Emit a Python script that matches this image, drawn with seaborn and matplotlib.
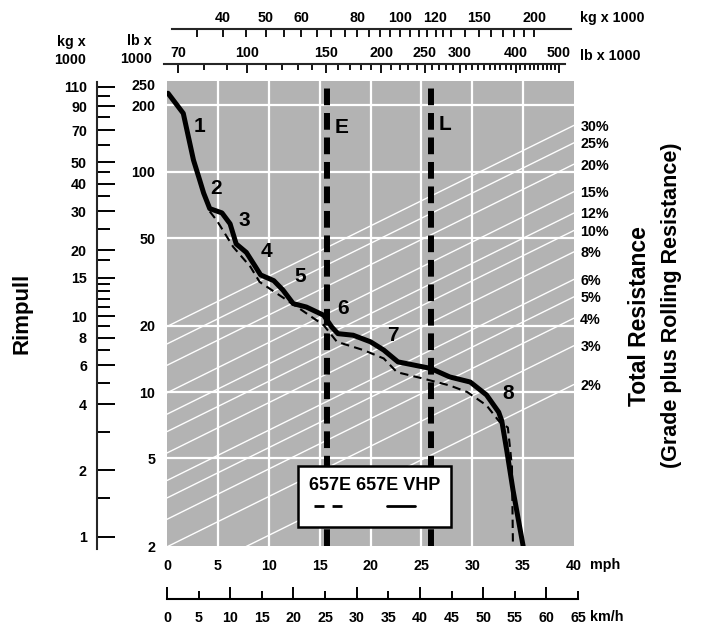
"""
Rimpull / speed / gradeability chart for the 657E and 657E VHP.
Rimpull on a log scale against ground speed, with the gross weight
scale on top and total resistance lines running across the plot.
"""

import numpy as np
import matplotlib
matplotlib.use('Agg')
import matplotlib.pyplot as plt
import seaborn as sns
from matplotlib.lines import Line2D
from matplotlib.ticker import FixedLocator, FuncFormatter, NullFormatter, NullLocator

# ── Rimpull curves (speed in mph, rimpull in lb x 1000) ──────
vhp_mph = [0.1, 1.6, 2.6, 3.2, 3.6, 4.2, 5.4, 6.2, 6.8, 7.8, 8.7, 9.2,
           10.5, 11.4, 12.4, 13.7, 15.4, 16.2, 16.8, 18.3, 20.0, 21.3,
           22.7, 25.9, 27.8, 29.8, 31.4, 32.6, 32.9, 33.4, 34.0, 35.0]
vhp_rimpull = [227, 184, 113, 92, 80, 68, 65, 58, 47, 43, 37, 34,
               32, 29, 25.2, 24.3, 22.3, 19.7, 18.4, 18.1, 16.9, 15.5,
               13.7, 12.8, 11.7, 11.1, 9.7, 8.1, 7.4, 5.4, 3.6, 2.0]

std_mph = [4.2, 4.9, 6.5, 8.2, 9.1, 10.8, 12.8, 15.4, 16.7, 19.3, 21.3,
           22.6, 25.2, 27.8, 29.5, 31.4, 32.7, 33.5, 33.9, 34.0]
std_rimpull = [66, 60, 45.6, 37, 31.6, 28, 24.3, 20.1, 16.9, 15.5, 14.2,
               12.3, 11.5, 10.7, 10.0, 8.7, 7.3, 6.9, 4.6, 2.0]

gear_names = ['1', '2', '3', '4', '5', '6', '7', '8']
gear_mph = [3.24, 4.82, 7.57, 9.8, 13.14, 17.27, 22.24, 33.54]
gear_rimpull = [160, 84, 60, 43.3, 33.4, 24.0, 18.1, 9.8]

# ── Total resistance lines (%) ───────────────────────────────
grades = [2, 3, 4, 5, 6, 8, 10, 12, 15, 20, 25, 30]

# ── Gross weight scale (lb x 1000 at 0 mph and at 40 mph) ────
weight_at_0mph = 66.1
weight_at_40mph = 541.0
marker_names = ['E', 'L']
marker_weight = [151, 258]
marker_label_rimpull = [159, 164]

# ── Scale ticks ──────────────────────────────────────────────
mph_ticks = [0, 5, 10, 15, 20, 25, 30, 35, 40]
grid_mph = [5, 10, 15, 20, 25, 30, 35]
lb_ticks = [2, 5, 10, 20, 50, 100, 200, 250]
grid_lb = [5, 10, 20, 50, 100, 200]
kg_left_major = [1, 2, 4, 6, 8, 10, 15, 20, 30, 40, 50, 70, 90, 110]
kg_left_minor = [1.5, 3, 5, 7, 9, 11, 12, 13, 14, 18, 25, 35, 45, 60, 80, 100]
kg_top_major = [40, 50, 60, 80, 100, 120, 150, 200]
kg_top_minor = [35, 45, 55, 65, 70, 75, 85, 90, 95, 105, 110, 115, 125,
                130, 140, 160, 170, 180, 190]
lb_top_major = [70, 100, 150, 200, 250, 300, 400, 500]
lb_top_minor = [v for v in range(80, 500, 10) if v not in lb_top_major]
kmh_major = [0, 10, 20, 30, 40, 50, 60]
kmh_minor = [5, 15, 25, 35, 45, 55, 65]

LB_PER_KG = 2.20462
KMH_PER_MPH = 1.609344
SPAN = np.log10(weight_at_40mph / weight_at_0mph)


def mph_to_lb(m):
    return weight_at_0mph * 10 ** (np.asarray(m, float) / 40 * SPAN)


def lb_to_mph(w):
    w = np.clip(np.asarray(w, float), 1e-9, None)
    return 40 * np.log10(w / weight_at_0mph) / SPAN


fmt = FuncFormatter(lambda v, p: f'{v:g}')

# ── Style ─────────────────────────────────────────────────────
GRAY = '#B3B3B3'
sns.set_theme(style='white')
plt.rcParams['font.family'] = ['Liberation Sans', 'DejaVu Sans']
plt.rcParams['font.weight'] = 'bold'
plt.rcParams['text.color'] = 'black'
plt.rcParams['xtick.color'] = 'black'
plt.rcParams['ytick.color'] = 'black'
TICK_FS = 10.3

W, H = 701, 624
fig = plt.figure(figsize=(W / 100, H / 100), dpi=100)
fig.patch.set_facecolor('white')
ax = fig.add_axes([167 / W, 1 - 546 / H, 407 / W, 465 / H])
ax.set_facecolor(GRAY)
ax.set_yscale('log')
ax.set_xlim(0, 40)
ax.set_ylim(2, 258)
for s in ax.spines.values():
    s.set_visible(False)

# grid
for g in grid_mph:
    ax.axvline(g, color='white', lw=1.6, zorder=1)
for g in grid_lb:
    ax.axhline(g, color='white', lw=1.6, zorder=1)

# total resistance lines
for r in grades:
    ax.plot([0, 40], [r / 100 * mph_to_lb(0), r / 100 * mph_to_lb(40)],
            color='white', lw=1.0, zorder=1)
    ax.annotate(f'{r}%', xy=(40, r / 100 * weight_at_40mph), xytext=(4.5, -1),
                textcoords='offset points', ha='left', va='center',
                fontsize=TICK_FS, annotation_clip=False)

# empty / loaded weight lines
for name, w, yl in zip(marker_names, marker_weight, marker_label_rimpull):
    ax.axvline(lb_to_mph(w), color='black', lw=4.3, ls=(0, (2.8, 1.3)), zorder=3)
    ax.text(lb_to_mph(w) + 1.45, yl, name, fontsize=15, ha='center', va='center', zorder=6)

# rimpull curves
sns.lineplot(x=std_mph, y=std_rimpull, ax=ax, color='black', lw=1.5,
             linestyle=(0, (4, 2.5)), sort=False, estimator=None, zorder=4)
sns.lineplot(x=vhp_mph, y=vhp_rimpull, ax=ax, color='black', lw=3.6,
             sort=False, estimator=None, zorder=5, solid_joinstyle='round')

for name, x, y in zip(gear_names, gear_mph, gear_rimpull):
    ax.text(x, y, name, fontsize=15, ha='center', va='center', zorder=6)

# main axis ticks
ax.set_xticks(mph_ticks)
ax.xaxis.set_major_formatter(fmt)
ax.set_yticks(lb_ticks)
ax.yaxis.set_major_formatter(fmt)
ax.yaxis.set_minor_locator(NullLocator())
ax.tick_params(axis='x', length=0, pad=9.5, labelsize=TICK_FS)
ax.tick_params(axis='y', length=0, pad=8.5, labelsize=TICK_FS)
ax.set_xlabel('')
ax.set_ylabel('')

# legend: title above its two line samples
handles = [Line2D([], [], color='black', lw=2.0, ls=(0, (3.6, 2.9))),
           Line2D([], [], color='black', lw=2.0)]
leg = ax.legend(handles, ['', ''], title='657E 657E VHP', ncol=2,
                loc='upper left', bbox_to_anchor=(0.322, 0.172),
                fontsize=13, title_fontproperties={'size': 13, 'weight': 'bold'},
                handlelength=1.55, handletextpad=0.28, columnspacing=2.2,
                markerfirst=False, borderpad=0.6, labelspacing=0.3,
                frameon=True, fancybox=False, framealpha=1, borderaxespad=0)
leg._legend_box.align = 'left'
leg.get_frame().set_edgecolor('black')
leg.get_frame().set_linewidth(1.8)
leg.get_frame().set_facecolor('white')
leg.set_zorder(10)

# ── Left: kg x 1000 scale ────────────────────────────────────
kg_ax = ax.secondary_yaxis(-0.171, functions=(lambda lb: lb / LB_PER_KG,
                                              lambda kg: kg * LB_PER_KG))
kg_ax.yaxis.set_major_locator(FixedLocator(kg_left_major))
kg_ax.yaxis.set_minor_locator(FixedLocator(kg_left_minor))
kg_ax.yaxis.set_major_formatter(fmt)
kg_ax.yaxis.set_minor_formatter(NullFormatter())
kg_ax.tick_params(which='both', direction='in', width=1.4, pad=7.5, labelsize=TICK_FS)
kg_ax.tick_params(which='major', length=13)
kg_ax.tick_params(which='minor', length=9)
kg_ax.spines['left'].set_linewidth(1.5)
kg_ax.spines['left'].set_bounds(0.875, 116)

# ── Top: gross weight scales ─────────────────────────────────
for loc, fwd, inv, major, minor, bounds, lmaj, lmin in [
        (1.1118, lambda m: mph_to_lb(m) / LB_PER_KG, lambda k: lb_to_mph(np.asarray(k, float) * LB_PER_KG),
         kg_top_major, kg_top_minor, (30.8, 242), 5.8, 5.8),
        (1.0359, mph_to_lb, lb_to_mph, lb_top_major, lb_top_minor, (65, 516), 6.8, 4.3)]:
    top = ax.secondary_xaxis(loc, functions=(fwd, inv))
    top.xaxis.set_major_locator(FixedLocator(major))
    top.xaxis.set_minor_locator(FixedLocator(minor))
    top.xaxis.set_major_formatter(fmt)
    top.xaxis.set_minor_formatter(NullFormatter())
    top.tick_params(which='both', direction='in', width=1.3, pad=3, labelsize=TICK_FS)
    top.tick_params(which='major', length=lmaj)
    top.tick_params(which='minor', length=lmin)
    top.spines['top'].set_linewidth(1.5)
    top.spines['top'].set_bounds(*bounds)

# ── Bottom: km/h scale ───────────────────────────────────────
kmh_width = 407 * (65 / KMH_PER_MPH) / 40
kax = fig.add_axes([167 / W, 1 - 599 / H, kmh_width / W, 0.0001])
kax.set_facecolor('none')
kax.set_xlim(0, 65)
kax.set_yticks([])
for side in ['top', 'left', 'right']:
    kax.spines[side].set_visible(False)
kax.spines['bottom'].set_linewidth(1.5)
kax.spines['bottom'].set_color('black')
kax.xaxis.set_major_locator(FixedLocator(kmh_major))
kax.xaxis.set_minor_locator(FixedLocator(kmh_minor))
kax.xaxis.set_major_formatter(fmt)
kax.xaxis.set_minor_formatter(fmt)
kax.tick_params(axis='x', which='both', direction='in', width=1.4, pad=9,
                labelsize=TICK_FS, bottom=True)
kax.tick_params(axis='x', which='major', length=8.6)
kax.tick_params(axis='x', which='minor', length=5.8)

# ── Text labels ──────────────────────────────────────────────
def ftext(x, y, s, **kw):
    fig.text(x / W, 1 - y / H, s, **kw)


ftext(86, 51, 'kg x\n1000', ha='right', va='center', fontsize=TICK_FS, linespacing=1.35)
ftext(152, 50, 'lb x\n1000', ha='right', va='center', fontsize=TICK_FS, linespacing=1.35)
ftext(580, 18, 'kg x 1000', ha='left', va='center', fontsize=TICK_FS)
ftext(580, 56, 'lb x 1000', ha='left', va='center', fontsize=TICK_FS)
ftext(590, 565, 'mph', ha='left', va='center', fontsize=TICK_FS)
ftext(590, 617, 'km/h', ha='left', va='center', fontsize=TICK_FS)
ftext(22, 313, 'Rimpull', ha='center', va='center', rotation=90, fontsize=16)
ftext(639, 316, 'Total Resistance', ha='center', va='center', rotation=90, fontsize=16.5)
ftext(671, 305, '(Grade plus Rolling Resistance)', ha='center', va='center',
      rotation=90, fontsize=15.5)

plt.savefig('out.png', dpi=100, facecolor='white')
print('Saved -> out.png')
